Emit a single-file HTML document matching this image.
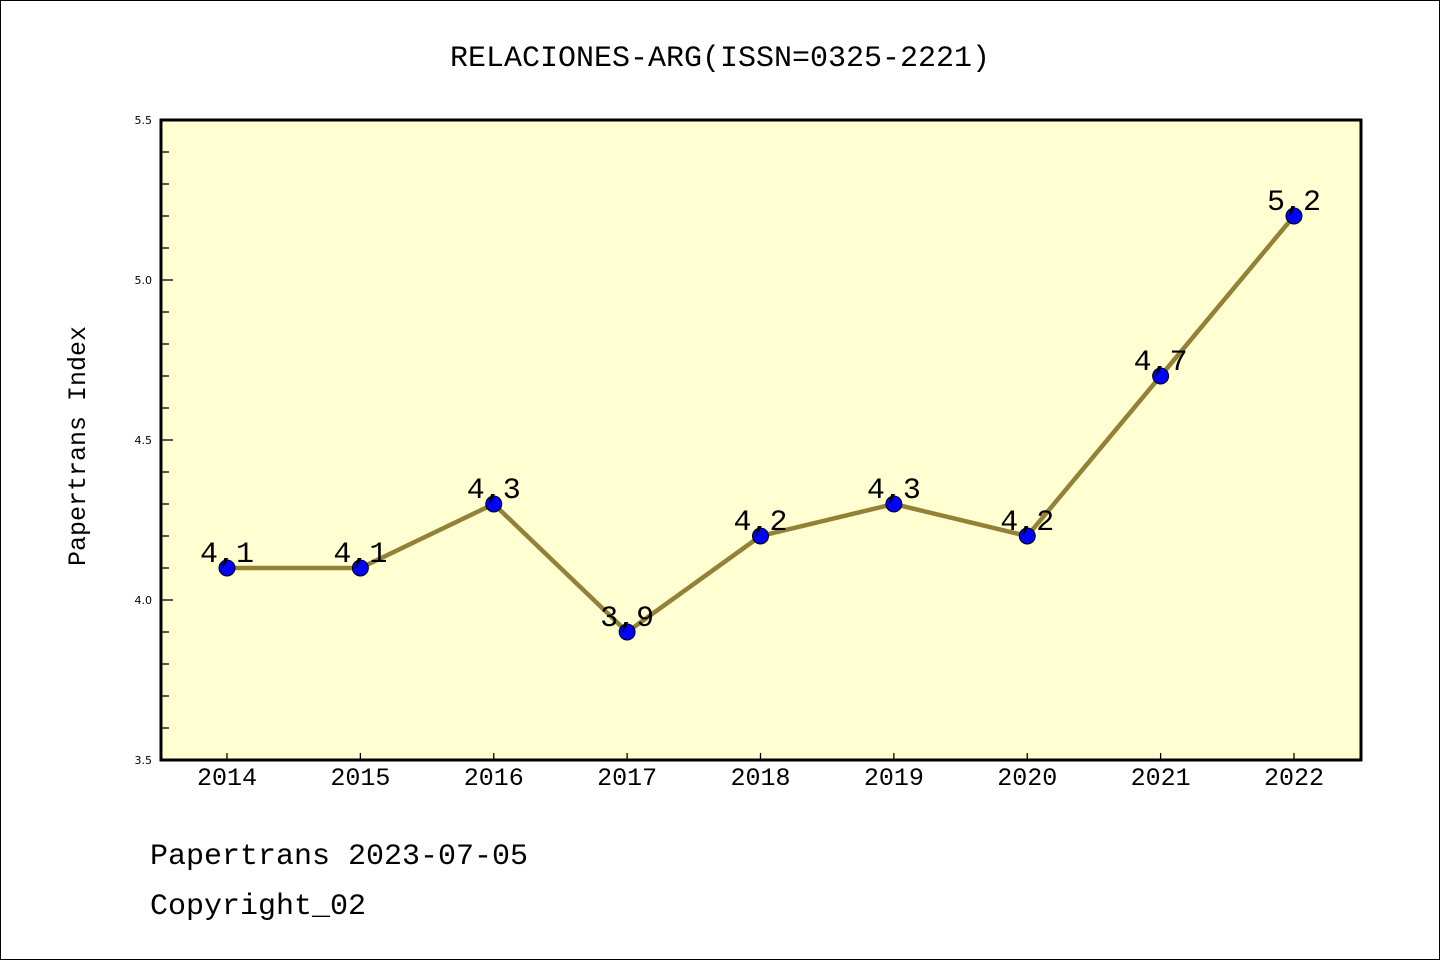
<!DOCTYPE html>
<html><head><meta charset="utf-8"><style>
html,body{margin:0;padding:0;background:#fff;}
svg{display:block;font-family:"Liberation Mono","DejaVu Sans Mono",monospace;}
</style></head><body>
<svg id="chart" width="1440" height="960" xmlns="http://www.w3.org/2000/svg">
<rect x="0.5" y="0.5" width="1439" height="959" fill="#fff" stroke="#000" stroke-width="1"/>
<text x="720" y="66" font-size="30" text-anchor="middle">RELACIONES-ARG(ISSN=0325-2221)</text>
<rect x="161" y="120" width="1200" height="640" fill="#ffffd2"/>
<g id="axes"></g>
<g id="series"></g>
<rect x="161" y="120" width="1200" height="640" fill="none" stroke="#000" stroke-width="3"/>
<text x="85" y="446" font-size="25" text-anchor="middle" transform="rotate(-90 85 446)">Papertrans Index</text>
<text x="150" y="864" font-size="30">Papertrans 2023-07-05</text>
<text x="150" y="914" font-size="30">Copyright_02</text>
</svg>
<script>
const categories=["2014","2015","2016","2017","2018","2019","2020","2021","2022"];
const values=[4.1,4.1,4.3,3.9,4.2,4.3,4.2,4.7,5.2];
const yTicks=[3.5,4.0,4.5,5.0,5.5];
const yMin=3.5,yMax=5.5;
const NS="http://www.w3.org/2000/svg";
const x=i=>227+i*(1294-227)/(categories.length-1);
const y=v=>760-(v-yMin)/(yMax-yMin)*640;
function mk(tag,attrs,parent,text){const e=document.createElementNS(NS,tag);for(const k in attrs)e.setAttribute(k,attrs[k]);if(text!==undefined)e.textContent=text;parent.appendChild(e);return e;}
const ax=document.getElementById('axes'),se=document.getElementById('series');
for(let k=0;k<=20;k++){const v=yMin+k*0.1;const major=k%5===0;
 const t=mk('line',{x1:161,x2:161+(major?12:8),y1:y(v),y2:y(v),stroke:'#000','stroke-width':1.3},ax);
 
 }
yTicks.forEach(v=>{const t=mk('text',{x:152,y:y(v)+4,'font-size':11,'text-anchor':'end','font-family':'DejaVu Sans, sans-serif'},ax,v.toFixed(1));
 
 });
categories.forEach((c,i)=>{const t=mk('line',{x1:x(i),x2:x(i),y1:760,y2:753,stroke:'#000','stroke-width':1.3},ax);
 
 
 const l=mk('text',{x:x(i),y:785,'font-size':25,'text-anchor':'middle'},ax,c);
 
 });
const line=mk('polyline',{points:values.map((v,i)=>x(i)+','+y(v)).join(' '),fill:'none',stroke:'#938236','stroke-width':4.5},se);


values.forEach((v,i)=>{const p=mk('circle',{cx:x(i),cy:y(v),r:8,fill:'#0000ff',stroke:'#000','stroke-width':1},se);
 
 
 const l=mk('text',{x:x(i),y:y(v)-6,'font-size':30,'text-anchor':'middle'},se,v.toFixed(1).replace('.',','));
 
 });
</script>
</body></html>
